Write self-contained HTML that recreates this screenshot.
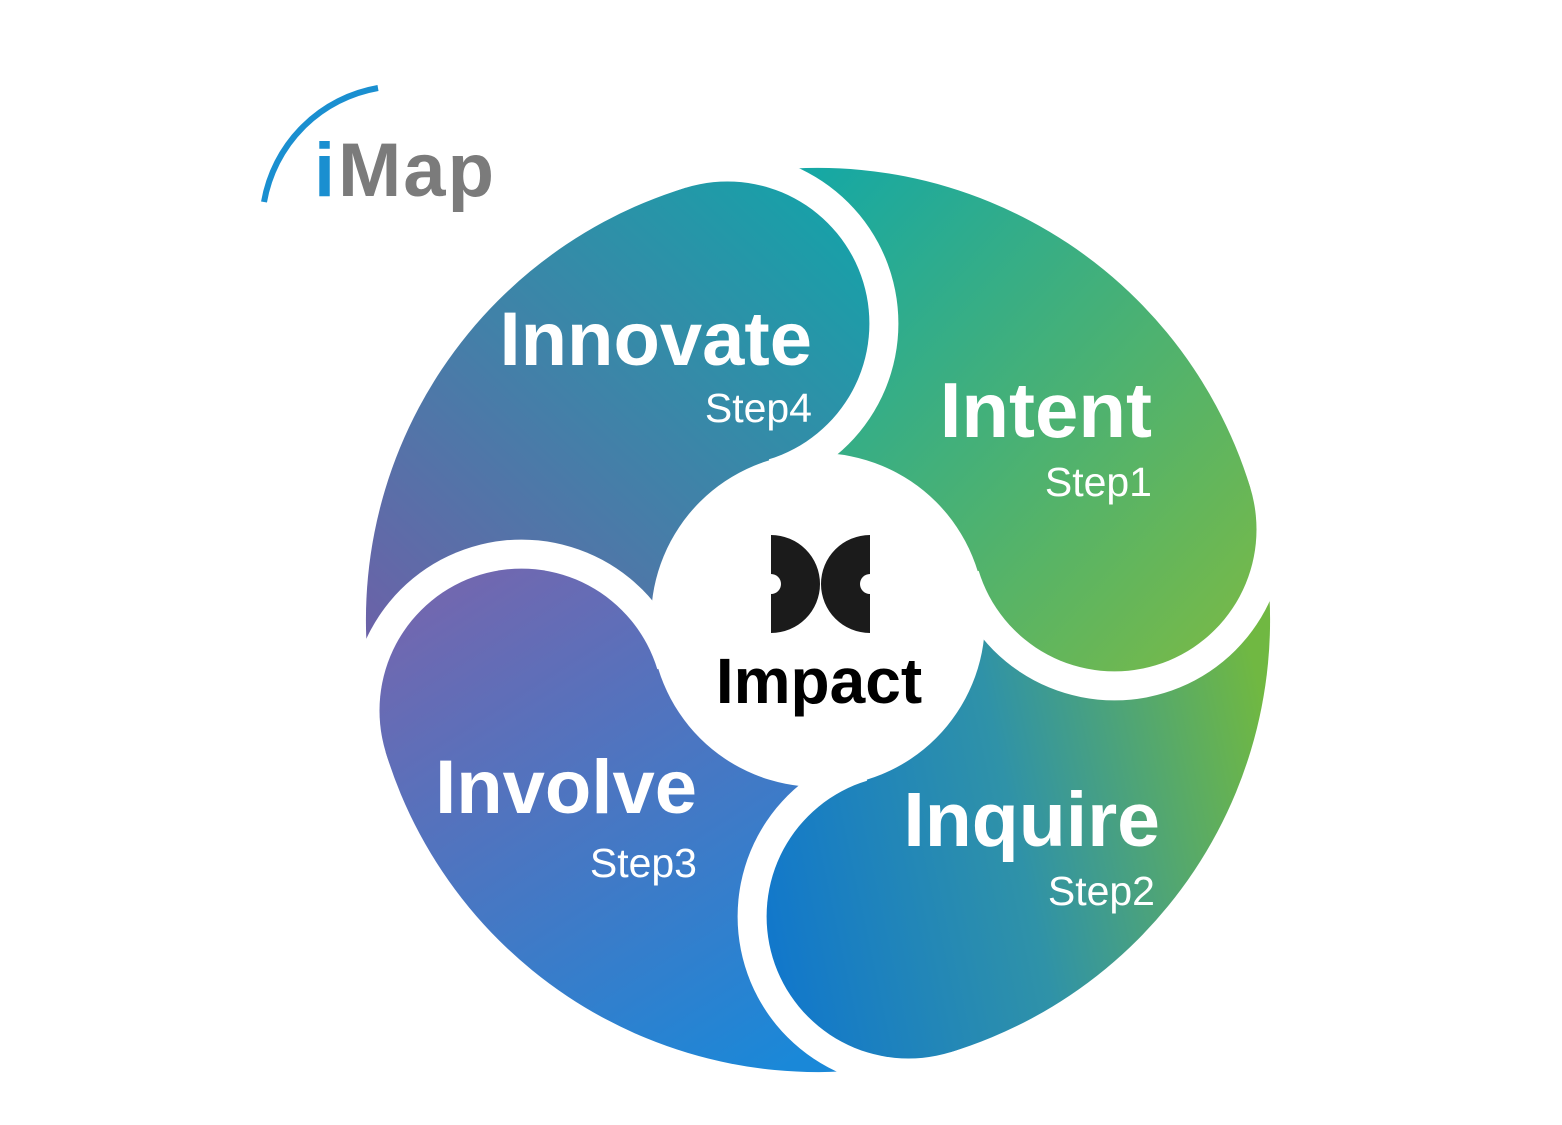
<!DOCTYPE html>
<html><head><meta charset="utf-8"><style>
html,body{margin:0;padding:0;background:#fff;}
svg{display:block;}
</style></head><body>
<svg width="1562" height="1125" viewBox="0 0 1562 1125" xmlns="http://www.w3.org/2000/svg">
<defs>
<linearGradient id="g0" x1="0" y1="0" x2="1" y2="1"><stop offset="0" stop-color="#12a7a8"/><stop offset="1" stop-color="#80bb40"/></linearGradient>
<linearGradient id="g1" x1="0" y1="0.6" x2="1" y2="0.4"><stop offset="0" stop-color="#1177cc"/><stop offset="0.5" stop-color="#2f92a8"/><stop offset="1" stop-color="#70b842"/></linearGradient>
<linearGradient id="g2" x1="0.2" y1="0" x2="0.8" y2="1"><stop offset="0" stop-color="#7566ae"/><stop offset="1" stop-color="#1a88d8"/></linearGradient>
<linearGradient id="g3" x1="0" y1="1" x2="1" y2="0"><stop offset="0" stop-color="#6d60a8"/><stop offset="1" stop-color="#0ea8a8"/></linearGradient>
<g id="petal">
  <path d="M818,620 L685.8,187.7 A452,452 0 0 1 1250.3,487.8 Z" fill="#fff"/>
  <circle cx="1114.5" cy="529.4" r="142" fill="#fff"/>
  <circle cx="727.4" cy="323.5" r="171" fill="#000"/>
  <circle cx="818" cy="620" r="167" fill="#000"/>
</g>
<mask id="m0" maskUnits="userSpaceOnUse" x="0" y="0" width="1562" height="1125"><use href="#petal"/></mask>
<mask id="m1" maskUnits="userSpaceOnUse" x="0" y="0" width="1562" height="1125"><use href="#petal" transform="rotate(90 818 620)"/></mask>
<mask id="m2" maskUnits="userSpaceOnUse" x="0" y="0" width="1562" height="1125"><use href="#petal" transform="rotate(180 818 620)"/></mask>
<mask id="m3" maskUnits="userSpaceOnUse" x="0" y="0" width="1562" height="1125"><use href="#petal" transform="rotate(270 818 620)"/></mask>
</defs>
<rect x="795" y="155" width="485" height="530" fill="url(#g0)" mask="url(#m0)"/>
<rect x="750" y="585" width="530" height="495" fill="url(#g1)" mask="url(#m1)"/>
<rect x="355" y="555" width="505" height="530" fill="url(#g2)" mask="url(#m2)"/>
<rect x="355" y="160" width="530" height="485" fill="url(#g3)" mask="url(#m3)"/>

<!-- logo -->
<path d="M264,202 A140,140 0 0 1 378,88" fill="none" stroke="#1a8fd0" stroke-width="6"/>
<text x="314" y="196" font-family="Liberation Sans, sans-serif" font-weight="bold" font-size="76" fill="#1a8fd0">i</text>
<text x="338" y="196" font-family="Liberation Sans, sans-serif" font-weight="bold" font-size="76" letter-spacing="2" fill="#7b7b7b">Map</text>

<!-- labels -->
<g font-family="Liberation Sans, sans-serif" fill="#fff" text-anchor="end">
<text x="812" y="365" font-size="76" font-weight="bold">Innovate</text>
<text x="812" y="422" font-size="41">Step4</text>
<text x="1152" y="437" font-size="78" font-weight="bold">Intent</text>
<text x="1152" y="496" font-size="41">Step1</text>
<text x="697" y="813" font-size="76" font-weight="bold">Involve</text>
<text x="697" y="877" font-size="41">Step3</text>
<text x="1160" y="846" font-size="77" font-weight="bold">Inquire</text>
<text x="1155" y="905" font-size="41">Step2</text>
</g>

<!-- center icon -->
<path d="M771,535 A49,49 0 0 1 771,633 L771,594 A10,10 0 0 0 771,574 Z" fill="#1b1b1b"/>
<path d="M870,535 A49,49 0 0 0 870,633 L870,594 A10,10 0 0 1 870,574 Z" fill="#1b1b1b"/>
<text x="819" y="703" text-anchor="middle" font-family="Liberation Sans, sans-serif" font-weight="bold" font-size="64" fill="#000">Impact</text>
</svg>
</body></html>
